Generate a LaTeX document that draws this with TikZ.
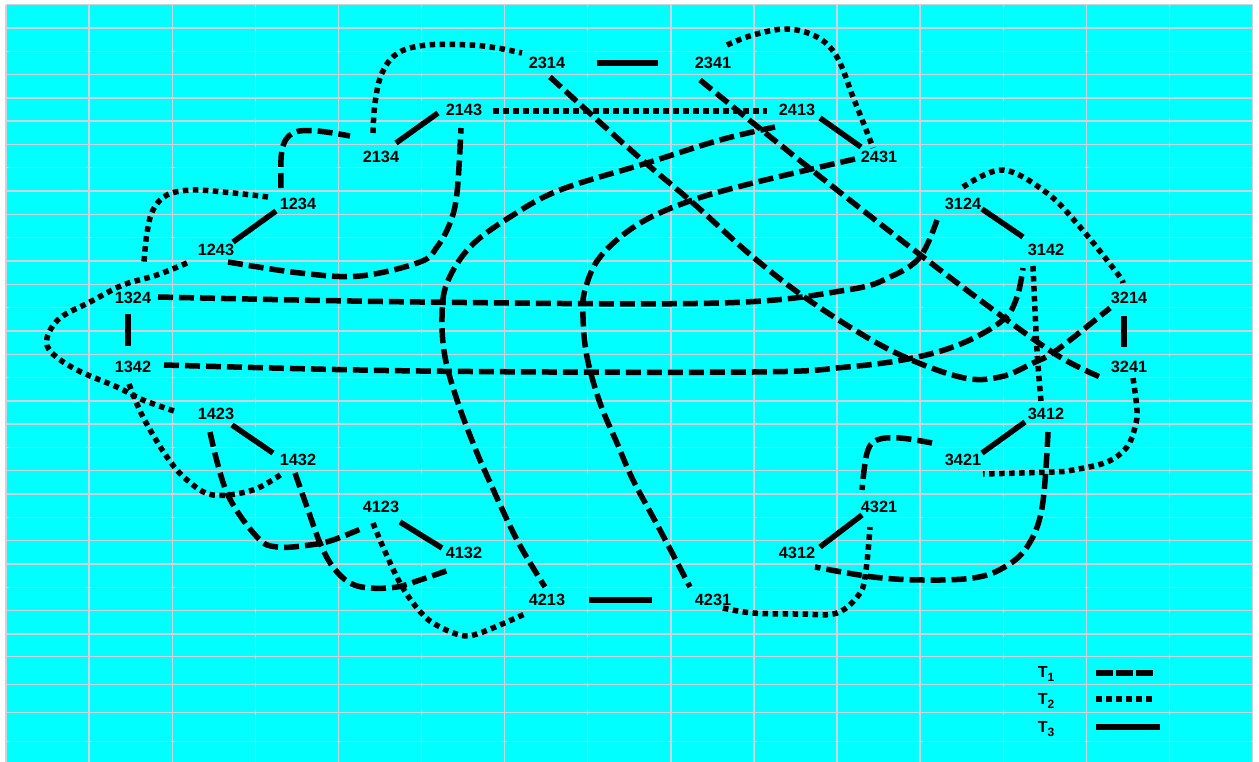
\documentclass[tikz,border=0pt]{standalone}
\usepackage{fontspec}
\setmainfont{Liberation Sans}
\definecolor{bg}{RGB}{0,255,255}
\definecolor{gridc}{RGB}{205,210,220}
\begin{document}
\begin{tikzpicture}[x=1pt,y=-1pt,
  lbl/.style={font=\fontsize{16.3}{18}\selectfont\bfseries, inner sep=0pt},
  legl/.style={font=\fontsize{16}{18}\selectfont\bfseries, inner sep=0pt},
  tone/.style={line width=5.5pt, dash pattern=on 15pt off 6pt},
  ttwo/.style={line width=5.5pt, dash pattern=on 5.5pt off 4.5pt},
  tthree/.style={line width=5.5pt},
  curve/.style={smooth, tension=0.6}]
\useasboundingbox (0,0) rectangle (1259,762);
\fill[white] (0,0) rectangle (1259,762);
\fill[bg] (6,4.7) rectangle (1253,762);
\foreach \k in {0,...,15} \draw[gridc, line width=1.4pt] ({6+83.1*\k},4.7) -- ({6+83.1*\k},762);
\foreach \k in {0,...,27} \draw[gridc, line width=1.4pt] (6,{4.7+23.3*\k}) -- (1253,{4.7+23.3*\k});
\foreach \yy in {656.7,684.7,712.7,741.7} \draw[gridc, line width=1.4pt] (6,\yy) -- (1253,\yy);

% nodes
\node[lbl] (n2314) at (547,63) {2314};
\node[lbl] (n2341) at (713,63) {2341};
\node[lbl] (n2143) at (464,110) {2143};
\node[lbl] (n2413) at (797,110) {2413};
\node[lbl] (n2134) at (381,157) {2134};
\node[lbl] (n2431) at (879,157) {2431};
\node[lbl] (n1234) at (298,204) {1234};
\node[lbl] (n3124) at (963,204) {3124};
\node[lbl] (n1243) at (216,250) {1243};
\node[lbl] (n3142) at (1046,250) {3142};
\node[lbl] (n1324) at (133,298) {1324};
\node[lbl] (n3214) at (1129,298) {3214};
\node[lbl] (n1342) at (133,367) {1342};
\node[lbl] (n3241) at (1129,367) {3241};
\node[lbl] (n1423) at (216,414) {1423};
\node[lbl] (n3412) at (1046,414) {3412};
\node[lbl] (n1432) at (298,460) {1432};
\node[lbl] (n3421) at (963,460) {3421};
\node[lbl] (n4123) at (381,507) {4123};
\node[lbl] (n4321) at (879,507) {4321};
\node[lbl] (n4132) at (464,553) {4132};
\node[lbl] (n4312) at (797,553) {4312};
\node[lbl] (n4213) at (547,600) {4213};
\node[lbl] (n4231) at (713,600) {4231};

% T3 solid
\draw[tthree] ([shift={(50,0)}]n2314.center) -- ([shift={(-55,0)}]n2341.center);
\draw[tthree] ([shift={(15,-14)}]n2134.center) -- ([shift={(-26,3)}]n2143.center);
\draw[tthree] ([shift={(23,8)}]n2413.center) -- ([shift={(-18,-10)}]n2431.center);
\draw[tthree] ([shift={(-22,7)}]n1234.center) -- ([shift={(17,-8)}]n1243.center);
\draw[tthree] ([shift={(19,5)}]n3124.center) -- ([shift={(-23,-13)}]n3142.center);
\draw[tthree] ([shift={(-5,16)}]n1324.center) -- ([shift={(-5,-21)}]n1342.center);
\draw[tthree] ([shift={(-5,18)}]n3214.center) -- ([shift={(-5,-20)}]n3241.center);
\draw[tthree] ([shift={(16,11)}]n1423.center) -- ([shift={(-25,-7)}]n1432.center);
\draw[tthree] ([shift={(-21,8)}]n3412.center) -- ([shift={(19,-7)}]n3421.center);
\draw[tthree] ([shift={(19,15)}]n4123.center) -- ([shift={(-22,-5)}]n4132.center);
\draw[tthree] ([shift={(-17,8)}]n4321.center) -- ([shift={(23,-6)}]n4312.center);
\draw[tthree] ([shift={(42,0)}]n4213.center) -- ([shift={(-61,0)}]n4231.center);

% T2 dotted
\draw[ttwo] plot[curve] coordinates {([shift={(-8,-24)}]n2134.center) (375,103) (382,73) (398,53) (427,45) (470,45) (497,48) ([shift={(-25,-10)}]n2314.center)};
\draw[ttwo] ([shift={(29,1)}]n2143.center) -- ([shift={(-30,1)}]n2413.center);
\draw[ttwo] plot[curve] coordinates {([shift={(14,-18)}]n2341.center) (753,35) (787,29) (817,37) (837,57) (853,97) (865,127) ([shift={(-6,-9)}]n2431.center)};
\draw[ttwo] plot[curve] coordinates {([shift={(-30,-7)}]n1234.center) (233,193) (193,190) (167,195) (153,210) (147,233) ([shift={(11,-36)}]n1324.center)};
\draw[ttwo] plot[curve] coordinates {([shift={(-29,13)}]n1243.center) (157,275) (123,285) (90,302) (60,318) (47,338) (52,353) (77,370) (117,387) (143,400) ([shift={(-39,-2)}]n1423.center)};
\draw[ttwo] plot[curve] coordinates {([shift={(-4,17)}]n1342.center) (143,417) (167,457) (187,480) (213,495) (253,490) ([shift={(-15,13)}]n1432.center)};
\draw[ttwo] plot[curve] coordinates {([shift={(-8,16)}]n4123.center) (383,547) (400,583) (417,608) (433,623) (460,635) (480,633) ([shift={(-20,13)}]n4213.center)};
\draw[ttwo] plot[curve] coordinates {([shift={(10,8)}]n4231.center) (753,613) (800,614) (837,613) (860,593) (866,570) ([shift={(-9,20)}]n4321.center)};
\draw[ttwo] plot[curve] coordinates {([shift={(0,-17)}]n3124.center) (1003,170) (1047,193) (1080,227) (1117,273) ([shift={(-6,-15)}]n3214.center)};
\draw[ttwo] plot[curve] coordinates {([shift={(-13,16)}]n3142.center) (1037,350) ([shift={(-5,-13)}]n3412.center)};
\draw[ttwo] plot[curve] coordinates {([shift={(4,11)}]n3241.center) (1137,410) (1135,427) (1127,447) (1107,462) (1073,470) (1053,472) ([shift={(20,14)}]n3421.center)};

% T1 dashed
\draw[tone] plot[curve] coordinates {([shift={(-17,-16)}]n1234.center) (282,150) (293,133) (317,131) ([shift={(-31,-21)}]n2134.center)};
\draw[tone] plot[curve] coordinates {([shift={(12,12)}]n1243.center) (300,273) (360,276) (420,262) (437,247) (450,223) (457,193) ([shift={(-3,18)}]n2143.center)};
\draw[tone] plot[curve] coordinates {([shift={(25,-1)}]n1324.center) (420,302) (720,303) (847,290) (890,277) (920,257) ([shift={(-26,16)}]n3124.center)};
\draw[tone] plot[curve] coordinates {([shift={(31,-2)}]n1342.center) (420,371) (753,372) (847,367) (913,358) (963,343) (1003,320) (1017,297) ([shift={(-23,18)}]n3142.center)};
\draw[tone] plot[curve] coordinates {([shift={(-6,18)}]n1423.center) (227,493) (257,537) (277,547) (310,545) (333,540) ([shift={(-18,21)}]n4123.center)};
\draw[tone] plot[curve] coordinates {([shift={(-3,13)}]n1432.center) (307,507) (320,543) (333,567) (350,583) (370,588) (397,587) (420,580) ([shift={(-12,16)}]n4132.center)};
\draw[tone] plot[curve] coordinates {([shift={(3,14)}]n2314.center) (633,152) (693,203) (753,257) (813,303) (890,350) (960,377) (1000,377) (1033,363) (1057,350) ([shift={(-19,10)}]n3214.center)};
\draw[tone] plot[curve] coordinates {([shift={(-13,17)}]n2341.center) (753,123) (837,190) (923,257) (1007,320) (1060,357) ([shift={(-29,10)}]n3241.center)};
\draw[tone] plot[curve] coordinates {([shift={(-22,17)}]n2413.center) (720,140) (647,163) (560,190) (510,217) (470,247) (447,283) (442,317) (445,357) (457,400) (473,443) (488,478) (517,540) ([shift={(-2,-13)}]n4213.center)};
\draw[tone] plot[curve] coordinates {([shift={(-24,2)}]n2431.center) (753,183) (687,202) (637,225) (600,257) (585,290) (583,317) (587,357) (600,403) (617,443) (633,480) (660,530) ([shift={(-23,-13)}]n4231.center)};
\draw[tone] plot[curve] coordinates {([shift={(2,18)}]n3412.center) (1042,508) (1027,547) (1003,568) (973,578) (923,580) (873,577) ([shift={(18,14)}]n4312.center)};
\draw[tone] plot[curve] coordinates {([shift={(-31,-17)}]n3421.center) (900,438) (877,440) (867,453) ([shift={(-17,-17)}]n4321.center)};

% legend
\node[legl] (lt1) at (1046,674) {T\raisebox{-4.5pt}{\fontsize{12}{13}\selectfont 1}};
\node[legl] (lt2) at (1046,701) {T\raisebox{-4.5pt}{\fontsize{12}{13}\selectfont 2}};
\node[legl] (lt3) at (1046,729) {T\raisebox{-4.5pt}{\fontsize{12}{13}\selectfont 3}};
\coordinate (la1) at (1096,673); \coordinate (lb1) at (1153,673);
\coordinate (la2) at (1096,699); \coordinate (lb2) at (1153,699);
\coordinate (la3) at (1096,727); \coordinate (lb3) at (1160,727);
\draw[line width=5.5pt, dash pattern=on 17pt off 3pt] (la1) -- (lb1);
\draw[ttwo] (la2) -- (lb2);
\draw[tthree] (la3) -- (lb3);
\end{tikzpicture}
\end{document}
